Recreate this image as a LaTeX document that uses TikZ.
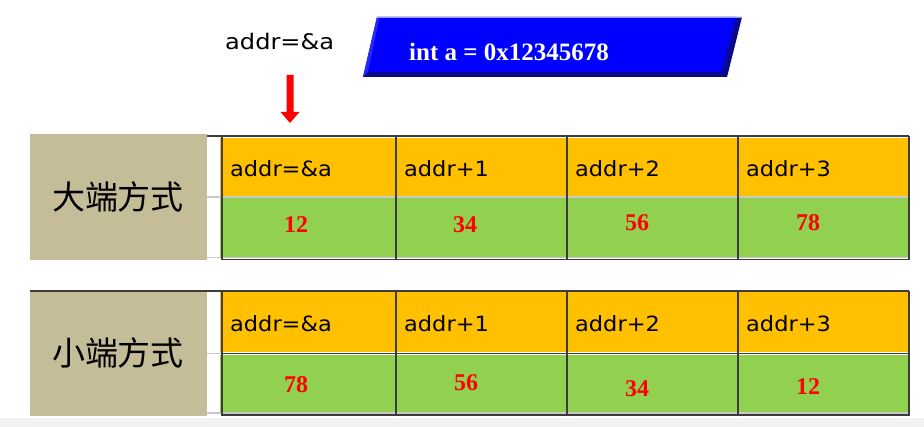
\documentclass[tikz,border=0pt]{standalone}
\usepackage{fontspec}
\newfontfamily\lat[FakeStretch=1.07]{DejaVu Sans}
\newfontfamily\latw[FakeStretch=1.12]{DejaVu Sans}
\newfontfamily\cjk{Noto Sans CJK SC}
\newfontfamily\tnr{Liberation Serif}
\definecolor{tan}{HTML}{C4BD97}
\definecolor{org}{HTML}{FFC000}
\definecolor{grn}{HTML}{92D050}
\definecolor{navy}{HTML}{0A0A88}
\definecolor{grid}{HTML}{3C3C3C}
\definecolor{lgrey}{HTML}{C8C8C8}
\tikzset{
  addrtxt/.style={anchor=base west, inner sep=0pt, font=\lat\fontsize{21}{24}\selectfont},
  numtxt/.style={inner sep=0pt, text=red, font=\tnr\bfseries\fontsize{24}{26}\selectfont},
  modetxt/.style={inner sep=0pt, font=\cjk\fontsize{33}{36}\selectfont},
  cellbox/.style={inner sep=0pt, outer sep=0pt, draw=none},
}
\begin{document}
\begin{tikzpicture}[x=1pt,y=-1pt]
\useasboundingbox (0,0) rectangle (924,427);
\fill[white] (0,0) rectangle (924,427);
\fill[black!5] (0,418) rectangle (924,427);

% title
\node[anchor=base west, inner sep=0pt, font=\latw\fontsize{21.5}{24}\selectfont] (title) at (225,50) {addr=\&a};

% red block arrow
\fill[red] (286.5,75) -- (293.5,75) -- (293.5,112) -- (299.5,112) -- (290,123) -- (280.5,112) -- (286.5,112) -- cycle;

% blue bevelled parallelogram
\fill[navy] (377,17) -- (742,17) -- (727,77) -- (363,77) -- cycle;
\fill[blue!85!white] (377,17) -- (380,17) -- (368,72) -- (363,77) -- cycle;
\fill[blue] (380,17) -- (736,17) -- (722,72) -- (368,72) -- cycle;
\draw[blue!40!white, line width=0.6pt] (377,17) -- (742,17);
\node[anchor=base west, inner sep=0pt, text=white, font=\tnr\bfseries\fontsize{25}{28}\selectfont] (decl) at (409,61) {int a = 0x12345678};

% ---------- big endian table ----------
\node[cellbox, fill=tan, minimum width=177pt, minimum height=126pt, anchor=north west] (bigbox) at (30,134) {};
\node[modetxt] (bigtxt) at (118,197) {大端方式};
\fill[org] (220,138) rectangle (909,196);
\fill[grn] (220,198) rectangle (909,257);
\draw[lgrey, line width=1.5pt] (207,197) -- (909,197);
\draw[lgrey, line width=1.5pt] (207,257.5) -- (909,257.5);
\draw[grid, line width=1.5pt] (207,136) -- (909,136);
\draw[grid, line width=1.2pt] (222,259.5) -- (909,259.5);
\foreach \x in {222,396,567,738,909}{
  \draw[grid, line width=1.1pt] (\x,136) -- (\x,260);
}
\node[addrtxt] (b0) at (230,177) {addr=\&a};
\node[addrtxt] (b1) at (404,177) {addr+1};
\node[addrtxt] (b2) at (575,177) {addr+2};
\node[addrtxt] (b3) at (746,177) {addr+3};
\node[numtxt] (bv0) at (296,225) {12};
\node[numtxt] (bv1) at (465,225) {34};
\node[numtxt] (bv2) at (637,223) {56};
\node[numtxt] (bv3) at (808,223) {78};

% ---------- little endian table ----------
\node[cellbox, fill=tan, minimum width=177pt, minimum height=125pt, anchor=north west] (litbox) at (30,291) {};
\node[modetxt] (littxt) at (118,353) {小端方式};
\fill[org] (220,292) rectangle (909,352.5);
\fill[grn] (220,355) rectangle (909,412);
\draw[grid, line width=1.5pt] (30,291) -- (909,291);
\draw[lgrey, line width=1.5pt] (207,353.5) -- (222,353.5);
\draw[grid, line width=1.2pt] (222,353.5) -- (909,353.5);
\draw[lgrey, line width=1.5pt] (207,413) -- (909,413);
\draw[grid, line width=1.2pt] (222,415) -- (909,415);
\foreach \x in {222,396,567,738,909}{
  \draw[grid, line width=1.1pt] (\x,291) -- (\x,416);
}
\node[addrtxt] (l0) at (230,332) {addr=\&a};
\node[addrtxt] (l1) at (404,332) {addr+1};
\node[addrtxt] (l2) at (575,332) {addr+2};
\node[addrtxt] (l3) at (746,332) {addr+3};
\node[numtxt] (lv0) at (296,385) {78};
\node[numtxt] (lv1) at (466,383) {56};
\node[numtxt] (lv2) at (637,389) {34};
\node[numtxt] (lv3) at (808,387) {12};
\end{tikzpicture}
\end{document}
